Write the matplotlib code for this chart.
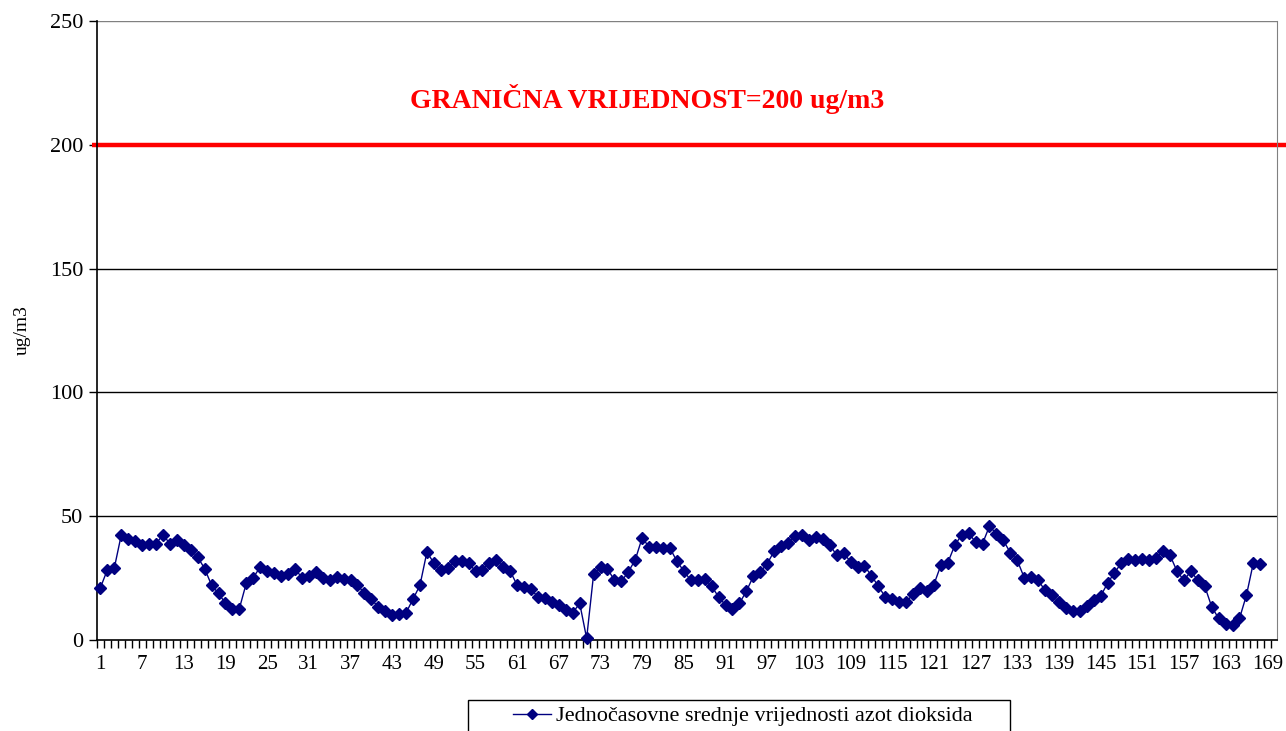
import matplotlib
matplotlib.use("Agg")
import matplotlib.pyplot as plt
from matplotlib.patches import Rectangle
import numpy as np

hours = list(range(1, 170))
no2 = [21.2, 28.4, 29.2, 42.5, 40.6, 39.9, 38.2, 38.9, 38.9, 42.5,
       38.9, 40.2, 38.5, 36.5, 33.5, 28.8, 22.1, 18.8, 14.8, 12.7,
       12.7, 23.0, 25.2, 29.5, 27.9, 27.1, 25.9, 26.5, 28.8, 25.2,
       26.0, 27.5, 25.2, 24.4, 25.5, 24.8, 24.1, 22.1, 19.0, 16.4,
       13.4, 11.6, 9.9, 10.7, 11.0, 16.5, 22.1, 35.5, 31.1, 28.2,
       29.2, 31.9, 31.9, 31.1, 27.8, 28.4, 31.2, 32.4, 29.5, 27.8,
       22.1, 21.4, 20.4, 17.4, 17.0, 15.4, 14.1, 12.3, 11.0, 14.8,
       0.7, 26.5, 29.5, 28.8, 24.1, 23.7, 27.5, 32.4, 41.3, 37.5,
       37.5, 37.1, 37.1, 31.8, 27.8, 24.1, 24.1, 24.7, 21.7, 17.4,
       14.1, 12.7, 14.8, 19.7, 25.7, 27.5, 30.8, 35.9, 37.8, 39.1,
       42.2, 42.5, 40.2, 41.6, 40.9, 38.5, 34.2, 35.3, 31.5, 29.5,
       29.9, 26.0, 21.7, 17.4, 16.4, 15.4, 15.4, 18.4, 20.8, 19.7,
       22.4, 30.2, 31.2, 38.2, 42.5, 43.3, 39.5, 38.9, 46.0, 42.9,
       40.2, 35.3, 32.2, 25.2, 25.5, 24.1, 20.1, 18.1, 15.4, 13.0,
       11.7, 11.7, 13.7, 16.1, 17.7, 22.9, 27.2, 31.1, 32.9, 32.2,
       32.9, 32.2, 33.3, 35.9, 34.2, 27.8, 24.1, 27.8, 24.1, 21.7,
       13.4, 8.7, 6.4, 6.0, 8.7, 18.1, 31.2, 30.6, np.nan]
limit_value = 200
limit_text = "GRANIČNA VRIJEDNOST=200 ug/m3"
series_label = "Jednočasovne srednje vrijednosti azot dioksida"
y_label = "ug/m3"
x_tick_labels = list(range(1, 170, 6))
y_ticks = [0, 50, 100, 150, 200, 250]

plt.rcParams['font.family'] = ['Liberation Serif', 'DejaVu Serif']

W, H = 1286, 731
fig = plt.figure(figsize=(W/100, H/100), dpi=100)
ax = fig.add_axes([97/W, 1-640/H, (1277-97)/W, (640-21)/H])

ax.set_xlim(0.5, 170.4)
ax.set_ylim(0, 250)

for v in [50, 100, 150]:
    ax.axhline(v, color='black', lw=1.0, zorder=1)
ax.axhline(250, color='#808080', lw=1.0, zorder=1)

ax.plot([-0.2, 172], [limit_value, limit_value], color='#ff0000', lw=3.2,
        clip_on=False, zorder=2, solid_capstyle='butt')

ax.plot(hours, no2, color='#000080', lw=1.0, marker='D', markersize=6.3,
        markerfacecolor='#000080', markeredgecolor='#000080',
        label=series_label, zorder=3, clip_on=False)

fig.text(647/W, 1-99/H, limit_text, color='#ff0000', fontsize=20,
         fontweight='bold', ha='center', va='center')

ax.set_yticks(y_ticks)
ax.set_yticklabels([str(v) for v in y_ticks], fontsize=16)
ax.tick_params(axis='y', direction='out', length=6, width=1, pad=4, colors='black')

ax.set_xticks(x_tick_labels)
ax.set_xticklabels([str(v) for v in x_tick_labels], fontsize=15)
ax.tick_params(axis='x', length=0, pad=11)
ax.set_xticks(np.arange(0.5, 170.5, 1), minor=True)
ax.tick_params(axis='x', which='minor', direction='out', length=6, width=1)

ax.set_ylabel(y_label, fontsize=14, labelpad=14)

ax.spines['top'].set_visible(False)
ax.spines['right'].set_color('#808080')
ax.spines['left'].set_linewidth(1.2)
ax.spines['bottom'].set_linewidth(1.2)

# legend box (extends past the bottom edge as in the reference)
fig.patches.append(Rectangle((468/W, 1-740/H), (1010-468)/W, 40/H,
                             transform=fig.transFigure, facecolor='white',
                             edgecolor='black', lw=1.0, zorder=5))
leg = fig.legend(loc='center left', bbox_to_anchor=(513/W, 1-716/H),
                 fontsize=16, frameon=False, handlelength=1.7,
                 handletextpad=0.25, borderaxespad=0, borderpad=0,
                 markerscale=0.75)
leg.set_zorder(6)

fig.savefig('out.png', dpi=100)
